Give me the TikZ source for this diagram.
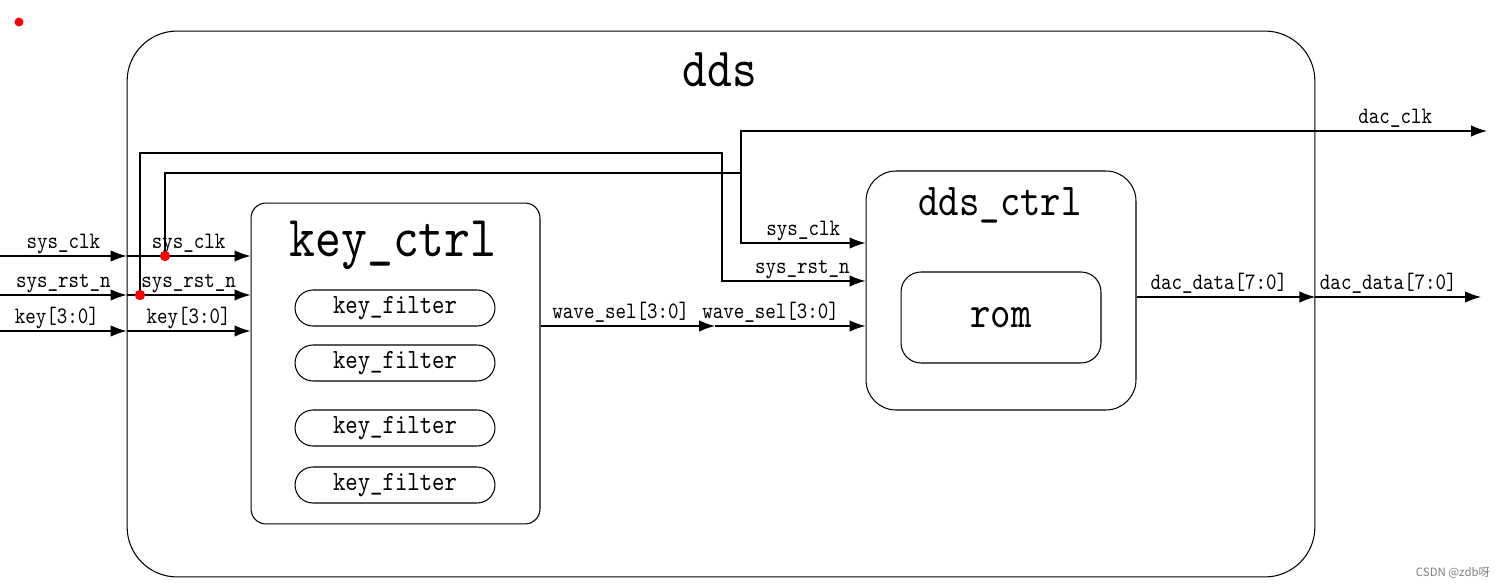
\documentclass[tikz,border=0pt]{standalone}
\usepackage{fontspec}
\usetikzlibrary{arrows.meta}
\newfontfamily\codefont[FakeStretch=0.85]{lmmono10-regular.otf}
\newfontfamily\cjkfont{Noto Sans CJK SC}
\begin{document}
\begin{tikzpicture}[x=0.02cm, y=-0.02cm, >={Latex[length=0.32cm,width=0.23cm]},
    line width=0.7pt, font=\codefont,
    blk/.style={draw, line width=0.6pt, inner sep=0pt},
    pill/.style={blk, rounded corners=0.36cm, minimum width=4cm, minimum height=0.72cm, font=\codefont\fontsize{15.8}{16}\selectfont},
    lbl/.style={anchor=base, yshift=4pt, inner sep=0pt, font=\codefont\fontsize{13.4}{14}\selectfont},
    dot/.style={circle, fill=red, inner sep=0pt, minimum size=0.2cm}]
        \useasboundingbox (0,0) rectangle (1505,588);

        \node[dot, minimum size=0.18cm] (mark) at (19,22) {};
        \node[blk, rounded corners=1cm, minimum width=23.76cm, minimum height=10.92cm] (dds) at (721,304) {};
        \node[font=\codefont\fontsize{31.5}{32}\selectfont] (ddstitle) at (720,70) {dds};

        \node[blk, rounded corners=0.3cm, minimum width=5.78cm, minimum height=6.42cm] (keyctrl) at (395.5,363.5) {};
        \node[font=\codefont\fontsize{33}{34}\selectfont] (keytitle) at (393,245) {key\_ctrl};
        \node[pill] (flt1) at (395,308) {key\_filter};
        \node[pill] (flt2) at (395,363) {key\_filter};
        \node[pill] (flt3) at (395,428) {key\_filter};
        \node[pill] (flt4) at (395,485) {key\_filter};

        \node[blk, rounded corners=0.6cm, minimum width=5.4cm, minimum height=4.78cm] (ddsctrl) at (1001,290.5) {};
        \node[font=\codefont\fontsize{26}{27}\selectfont] (ctrltitle) at (1000,205) {dds\_ctrl};
        \node[blk, rounded corners=0.4cm, minimum width=4cm, minimum height=1.82cm, font=\codefont\fontsize{26}{27}\selectfont] (rom) at (1001,317.5) {rom};

        \coordinate (inclk) at (0,256);
        \coordinate (inrst) at (0,295);
        \coordinate (inkey) at (0,331);
        \coordinate (clksplit) at (741,173);
        \coordinate (clktop) at (741,131);
        \coordinate (rstturn) at (722,153);
        \coordinate (outclk) at (1487,131);
        \coordinate (clkport) at (ddsctrl.west |- 0,243);
        \coordinate (rstport) at (ddsctrl.west |- 0,281);
        \coordinate (wsout) at (keyctrl.east |- 0,326);
        \coordinate (wsmid) at (715,326);
        \coordinate (wsin) at (ddsctrl.west |- 0,326);
        \coordinate (ddout) at (ddsctrl.east |- 0,297);
        \coordinate (outdata) at (1481,297);

        \draw[->] (inclk) -- node[lbl]{sys\_clk} (inclk -| dds.west);
        \draw[->] (inrst) -- node[lbl]{sys\_rst\_n} (inrst -| dds.west);
        \draw[->] (inkey) -- node[lbl, pos=0.45]{key[3:0]} (inkey -| dds.west);
        \draw[->] (inclk -| dds.west) -- node[lbl]{sys\_clk} (inclk -| keyctrl.west);
        \draw[->] (inrst -| dds.west) -- node[lbl]{sys\_rst\_n} (inrst -| keyctrl.west);
        \draw[->] (inkey -| dds.west) -- node[lbl]{key[3:0]} (inkey -| keyctrl.west);

        \node[dot] (jclk) at (165,256) {};
        \node[dot] (jrst) at (140,295) {};
        \draw[->] (jclk.center) |- (clksplit) |- node[lbl, pos=0.75]{sys\_clk} (clkport);
        \draw[->] (clksplit) -- (clktop) -- node[lbl, pos=0.877]{dac\_clk} (outclk);
        \draw[->] (jrst.center) |- (rstturn) |- node[lbl, pos=0.78]{sys\_rst\_n} (rstport);
        \node[dot] at (jclk) {};
        \node[dot] at (jrst) {};

        \draw[->] (wsout) -- node[lbl, pos=0.46]{wave\_sel[3:0]} (wsmid);
        \draw[->] (wsmid) -- node[lbl, pos=0.37]{wave\_sel[3:0]} (wsin);
        \draw[->] (ddout) -- node[lbl, pos=0.46]{dac\_data[7:0]} (dds.east |- ddout);
        \draw[->] (dds.east |- ddout) -- node[lbl, pos=0.44]{dac\_data[7:0]} (outdata);

        \node[font=\cjkfont\fontsize{6.5}{7}\selectfont, text=gray] (csdn) at (1453,573) {CSDN @zdb呀};
    \end{tikzpicture}
\end{document}
